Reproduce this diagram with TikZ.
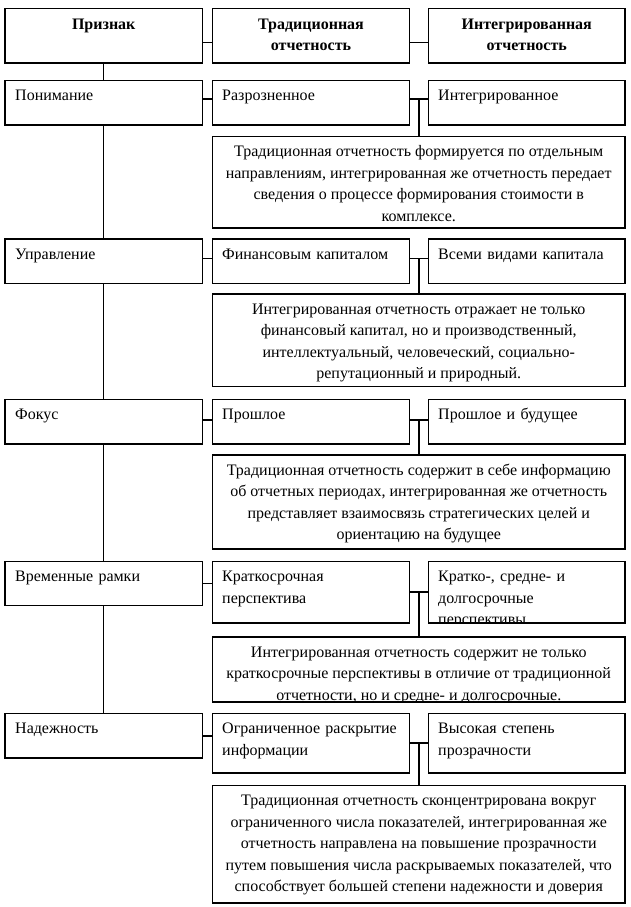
\documentclass[tikz,border=0pt]{standalone}
\usepackage{fontspec}
\setmainfont{Liberation Serif}
\newcommand{\fs}{\fontsize{16}{21.5}\selectfont}
\newcommand{\firstln}{\rule{0pt}{14pt}}
\begin{document}
\begin{tikzpicture}[x=1pt,y=-1pt,
  box/.style={draw, line width=1.1pt, inner sep=0pt, outer sep=0pt, anchor=north west},
  tl/.style={inner sep=0pt, anchor=north west, align=left, text width=185pt, font=\fs},
  tc/.style={inner sep=0pt, anchor=north, align=center, font=\fs},
  th/.style={inner sep=0pt, anchor=north, align=center, font=\fs\bfseries},
  ln/.style={line width=1.1pt}]
\useasboundingbox (0,0) rectangle (630,907);
\fill[white] (0,0) rectangle (630,907);

% header
\node[box, minimum width=197.5, minimum height=54.7] (h0) at (5,8.3) {};
\node[box, minimum width=197, minimum height=54.7] (h1) at (212.5,8.3) {};
\node[box, minimum width=196.5, minimum height=54.7] (h2) at (428.5,8.3) {};
\node[th] (h0t) at ([shift={(0,7)}]h0.north) {\firstln Признак};
\node[th] (h1t) at ([shift={(0,7)}]h1.north) {\firstln Традиционная\\отчетность};
\node[th] (h2t) at ([shift={(0,7)}]h2.north) {\firstln Интегрированная\\отчетность};

% row 1
\node[box, minimum width=197.5, minimum height=44.7] (l1) at (5,80.3) {};
\node[box, minimum width=197, minimum height=44.7] (m1) at (212.5,80.3) {};
\node[box, minimum width=196.5, minimum height=44.7] (r1) at (428.5,80.3) {};
\node[box, minimum width=412.5, minimum height=91.5] (e1) at (212.5,136.5) {};
\node[tl] (l1t) at ([shift={(10,6)}]l1.north west) {\firstln Понимание};
\node[tl] (m1t) at ([shift={(9.5,6)}]m1.north west) {\firstln Разрозненное};
\node[tl] (r1t) at ([shift={(9.5,6)}]r1.north west) {\firstln Интегрированное};
\node[tc] (e1t) at ([shift={(0,6)}]e1.north) {\firstln Традиционная отчетность формируется по отдельным\\направлениям, интегрированная же отчетность передает\\сведения о процессе формирования стоимости в\\комплексе.};

% row 2
\node[box, minimum width=197.5, minimum height=44.5] (l2) at (5,239) {};
\node[box, minimum width=197, minimum height=44.5] (m2) at (212.5,239) {};
\node[box, minimum width=196.5, minimum height=44.5] (r2) at (428.5,239) {};
\node[box, minimum width=412.5, minimum height=92.5] (e2) at (212.5,294) {};
\node[tl] (l2t) at ([shift={(10,6)}]l2.north west) {\firstln Управление};
\node[tl] (m2t) at ([shift={(9.5,6)}]m2.north west) {\firstln Финансовым капиталом};
\node[tl] (r2t) at ([shift={(9.5,6)}]r2.north west) {\firstln Всеми видами капитала};
\node[tc] (e2t) at ([shift={(0,6)}]e2.north) {\firstln Интегрированная отчетность отражает не только\\финансовый капитал, но и производственный,\\интеллектуальный, человеческий, социально-\\репутационный и природный.};

% row 3
\node[box, minimum width=197.5, minimum height=44.5] (l3) at (5,399.5) {};
\node[box, minimum width=197, minimum height=44.5] (m3) at (212.5,399.5) {};
\node[box, minimum width=196.5, minimum height=44.5] (r3) at (428.5,399.5) {};
\node[box, minimum width=412.5, minimum height=94] (e3) at (212.5,455) {};
\node[tl] (l3t) at ([shift={(10,6)}]l3.north west) {\firstln Фокус};
\node[tl] (m3t) at ([shift={(9.5,6)}]m3.north west) {\firstln Прошлое};
\node[tl] (r3t) at ([shift={(9.5,6)}]r3.north west) {\firstln Прошлое и будущее};
\node[tc] (e3t) at ([shift={(0,6)}]e3.north) {\firstln Традиционная отчетность содержит в себе информацию\\об отчетных периодах, интегрированная же отчетность\\представляет взаимосвязь стратегических целей и\\ориентацию на будущее};

% row 4
\node[box, minimum width=197.5, minimum height=44] (l4) at (5,561.5) {};
\node[box, minimum width=197, minimum height=61.5] (m4) at (212.5,561.5) {};
\node[box, minimum width=196.5, minimum height=61.5] (r4) at (428.5,561.5) {};
\node[box, minimum width=412.5, minimum height=65] (e4) at (212.5,637) {};
\node[tl] (l4t) at ([shift={(10,6)}]l4.north west) {\firstln Временные рамки};
\node[tl] (m4t) at ([shift={(9.5,6)}]m4.north west) {\firstln Краткосрочная\\перспектива};
\begin{scope}
\clip (r4.north west) rectangle (r4.south east);
\node[tl] (r4t) at ([shift={(9.5,6)}]r4.north west) {\firstln Кратко-, средне- и\\долгосрочные\\перспективы};
\end{scope}
\begin{scope}
\clip (e4.north west) rectangle (e4.south east);
\node[tc] (e4t) at ([shift={(0,6)}]e4.north) {\firstln Интегрированная отчетность содержит не только\\краткосрочные перспективы в отличие от традиционной\\отчетности, но и средне- и долгосрочные.};
\end{scope}

% row 5
\node[box, minimum width=197.5, minimum height=44.5] (l5) at (5,713.5) {};
\node[box, minimum width=197, minimum height=59.5] (m5) at (212.5,713.5) {};
\node[box, minimum width=196.5, minimum height=59.5] (r5) at (428.5,713.5) {};
\node[box, minimum width=412.5, minimum height=117.5] (e5) at (212.5,785.5) {};
\node[tl] (l5t) at ([shift={(10,6)}]l5.north west) {\firstln Надежность};
\node[tl] (m5t) at ([shift={(9.5,6)}]m5.north west) {\firstln Ограниченное раскрытие\\информации};
\node[tl] (r5t) at ([shift={(9.5,6)}]r5.north west) {\firstln Высокая степень\\прозрачности};
\node[tc] (e5t) at ([shift={(0,6)}]e5.north) {\firstln Традиционная отчетность сконцентрирована вокруг\\ограниченного числа показателей, интегрированная же\\отчетность направлена на повышение прозрачности\\путем повышения числа раскрываемых показателей, что\\способствует большей степени надежности и доверия};

% spine
\draw[ln] (h0.south) -- (l1.north);
\draw[ln] (l1.south) -- (l2.north);
\draw[ln] (l2.south) -- (l3.north);
\draw[ln] (l3.south) -- (l4.north);
\draw[ln] (l4.south) -- (l5.north);

% horizontal connectors
\draw[ln] (h0.east |- 0,42.3) -- (h1.west |- 0,42.3);
\draw[ln] (h1.east |- 0,42.3) -- (h2.west |- 0,42.3);

\draw[ln] (l1.east |- 0,99) -- (m1.west |- 0,99);
\draw[ln] (m1.east |- 0,99) -- (r1.west |- 0,99);
\coordinate (j1) at (419,99);
\draw[ln] (j1) -- (e1.north -| j1);

\draw[ln] (l2.east |- 0,258.5) -- (m2.west |- 0,258.5);
\draw[ln] (m2.east |- 0,258.5) -- (r2.west |- 0,258.5);
\coordinate (j2) at (419,258.5);
\draw[ln] (j2) -- (e2.north -| j2);

\draw[ln] (l3.east |- 0,420) -- (m3.west |- 0,420);
\draw[ln] (m3.east |- 0,420) -- (r3.west |- 0,420);
\coordinate (j3) at (419,420);
\draw[ln] (j3) -- (e3.north -| j3);

\draw[ln] (l4.east |- 0,583.5) -- (m4.west |- 0,583.5);
\draw[ln] (m4.east |- 0,592) -- (r4.west |- 0,592);
\coordinate (j4) at (419,592);
\draw[ln] (j4) -- (e4.north -| j4);

\draw[ln] (l5.east |- 0,736) -- (m5.west |- 0,736);
\draw[ln] (m5.east |- 0,743) -- (r5.west |- 0,743);
\coordinate (j5) at (419,743);
\draw[ln] (j5) -- (e5.north -| j5);
\end{tikzpicture}
\end{document}
